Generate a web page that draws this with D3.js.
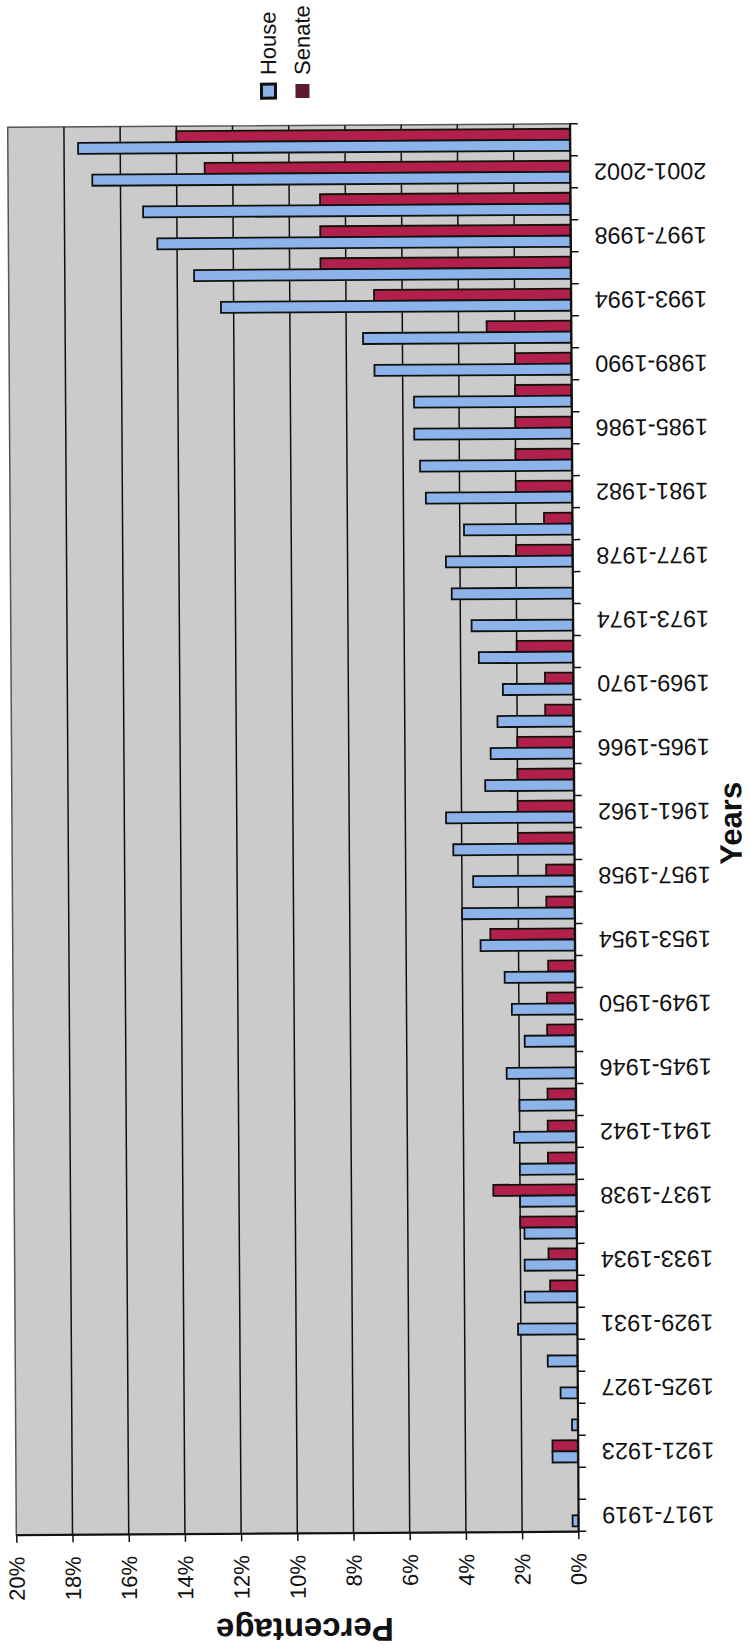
<!DOCTYPE html>
<html>
<head>
<meta charset="utf-8">
<script src="https://cdn.jsdelivr.net/npm/d3@7"></script>
<style>
  html, body { margin: 0; padding: 0; background: #ffffff; }
  svg { display: block; }
  text { font-family: "Liberation Sans", Arial, sans-serif; fill: #111; }
</style>
</head>
<body>
<script>
// ---- data (women's share of seats, %) ----
const categories = [
  "1917-1919","1919-1921","1921-1923","1923-1925","1925-1927","1927-1929","1929-1931","1931-1933",
  "1933-1934","1935-1936","1937-1938","1939-1940","1941-1942","1943-1944","1945-1946","1947-1948",
  "1949-1950","1951-1952","1953-1954","1955-1956","1957-1958","1959-1960","1961-1962","1963-1964",
  "1965-1966","1967-1968","1969-1970","1971-1972","1973-1974","1975-1976","1977-1978","1979-1980",
  "1981-1982","1983-1984","1985-1986","1987-1988","1989-1990","1991-1992","1993-1994","1995-1996",
  "1997-1998","1999-2000","2001-2002","2003-2004"
];
const shownLabels = [
  "1917-1919","1921-1923","1925-1927","1929-1931","1933-1934","1937-1938","1941-1942","1945-1946",
  "1949-1950","1953-1954","1957-1958","1961-1962","1965-1966","1969-1970","1973-1974","1977-1978",
  "1981-1982","1985-1986","1989-1990","1993-1994","1997-1998","2001-2002"
];
const house = [
  0.2, 0, 0.9, 0.2, 0.6, 1.05, 2.1, 1.85, 1.85, 1.85, 2.0, 2.0, 2.2, 2.0, 2.45, 1.8,
  2.25, 2.5, 3.35, 4.0, 3.6, 4.3, 4.55, 3.15, 2.95, 2.7, 2.5, 3.35, 3.6, 4.3, 4.5, 3.85,
  5.2, 5.4, 5.6, 5.6, 7.0, 7.4, 12.45, 13.4, 14.7, 15.2, 17.0, 17.5
];
const senate = [
  0, 0, 0.9, 0, 0, 0, 0, 0.95, 1.0, 2.0, 2.95, 1.0, 1.0, 1.0, 0, 1.0,
  1.0, 0.95, 3.0, 1.0, 1.0, 2.0, 2.0, 2.0, 2.0, 1.0, 1.0, 2.0, 0, 0, 2.0, 1.0,
  2.0, 2.0, 2.0, 2.0, 2.0, 3.0, 7.0, 8.9, 8.9, 8.9, 13.0, 14.0
];
const seriesNames = ["Senate", "House"];
const valueTicks = [0, 2, 4, 6, 8, 10, 12, 14, 16, 18, 20];

// ---- layout ----
const W = 750, H = 1652;
const plot = { left: 12, right: 574, top: 125.5, bottom: 1533 };
const colors = { House: "#8db4ea", Senate: "#b0204a" };

const svg = d3.select("body").append("svg").attr("width", W).attr("height", H);
const g = svg.append("g").attr("transform", "rotate(-0.35, 293, 829)");

const x = d3.scaleLinear().domain([0, 20]).range([plot.right, plot.left]);
const y = d3.scaleBand().domain(categories).range([plot.bottom, plot.top]);
const sub = d3.scaleBand().domain(seriesNames).range([0, y.bandwidth()]).paddingOuter(0.45);

// plot background
g.append("rect")
  .attr("x", plot.left).attr("y", plot.top)
  .attr("width", plot.right - plot.left).attr("height", plot.bottom - plot.top)
  .attr("fill", "#cbcbcb").attr("stroke", "#555").attr("stroke-width", 1.5);

// gridlines
g.append("g").selectAll("line")
  .data(valueTicks.filter(v => v > 0 && v < 20))
  .join("line")
  .attr("x1", d => x(d)).attr("x2", d => x(d))
  .attr("y1", plot.top).attr("y2", plot.bottom)
  .attr("stroke", "#111").attr("stroke-width", 1.5);

// bars
const rows = categories.map((c, i) => ({ c, House: house[i], Senate: senate[i] }));
const barData = [];
rows.forEach(r => seriesNames.forEach(s => { if (r[s] > 0) barData.push({ c: r.c, s, v: r[s] }); }));
g.append("g").selectAll("rect")
  .data(barData)
  .join("rect")
  .attr("x", d => x(d.v))
  .attr("y", d => y(d.c) + sub(d.s))
  .attr("width", d => x(0) - x(d.v))
  .attr("height", sub.bandwidth())
  .attr("fill", d => colors[d.s])
  .attr("stroke", "#111").attr("stroke-width", 1.8);

// value axis (bottom)
const xAxis = g.append("g").attr("transform", `translate(0,${plot.bottom})`)
  .call(d3.axisBottom(x).tickValues(valueTicks).tickSize(8).tickSizeOuter(0).tickFormat(d => d + "%"));
xAxis.select(".domain").attr("stroke", "#111").attr("stroke-width", 2);
xAxis.selectAll(".tick line").attr("stroke", "#111").attr("stroke-width", 1.5);
xAxis.selectAll(".tick text")
  .attr("font-size", 22).attr("fill", "#111")
  .attr("text-anchor", "end").attr("dominant-baseline", "central")
  .attr("x", 0).attr("y", 0).attr("dy", null)
  .attr("transform", "translate(0,22) rotate(-90)");

// category axis (right)
const yAxis = g.append("g").attr("transform", `translate(${plot.right},0)`)
  .call(d3.axisRight(y).tickValues([]).tickSizeOuter(0));
yAxis.select(".domain").attr("stroke", "#111").attr("stroke-width", 2);
// tick marks at band boundaries
const boundaries = categories.map(c => y(c)).concat([plot.bottom]);
yAxis.append("g").selectAll("line").data(boundaries).join("line")
  .attr("x1", 0).attr("x2", 8).attr("y1", d => d).attr("y2", d => d)
  .attr("stroke", "#111").attr("stroke-width", 1.5);
yAxis.append("g").selectAll("text").data(shownLabels).join("text")
  .attr("transform", d => `translate(24,${y(d) + y.bandwidth() / 2}) rotate(180)`)
  .attr("text-anchor", "end").attr("dominant-baseline", "central")
  .attr("font-size", 23.5)
  .text(d => d);

// axis titles
g.append("text")
  .attr("transform", "translate(300,1630) rotate(180)")
  .attr("text-anchor", "middle").attr("dominant-baseline", "central")
  .attr("font-size", 33).attr("font-weight", "bold")
  .text("Percentage");
g.append("text")
  .attr("transform", "translate(731,826) rotate(-90)")
  .attr("text-anchor", "middle").attr("dominant-baseline", "central")
  .attr("font-size", 31).attr("font-weight", "bold")
  .text("Years");

// legend
const legend = [
  { name: "House", x: 273, fill: colors.House, stroke: "#111", sw: 3 },
  { name: "Senate", x: 307, fill: "#5e1a30", stroke: "#5e1a30", sw: 0 }
];
const lg = g.append("g");
lg.selectAll("rect").data(legend).join("rect")
  .attr("x", d => d.x - 7).attr("y", 84).attr("width", 14).attr("height", 14)
  .attr("fill", d => d.fill).attr("stroke", d => d.stroke).attr("stroke-width", d => d.sw);
lg.selectAll("text").data(legend).join("text")
  .attr("transform", d => `translate(${d.x},75) rotate(-90)`)
  .attr("text-anchor", "start").attr("dominant-baseline", "central")
  .attr("font-size", 22)
  .text(d => d.name);
</script>
</body>
</html>
